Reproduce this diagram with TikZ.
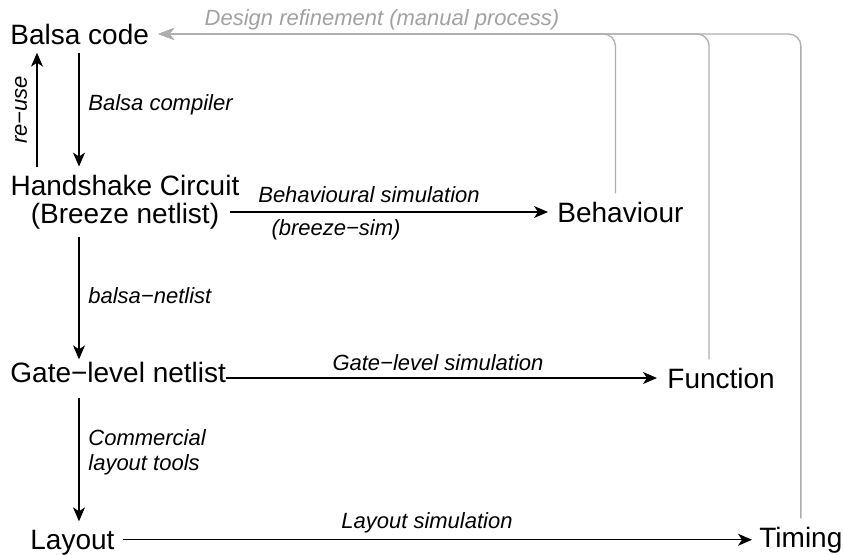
\documentclass[tikz,border=0pt]{standalone}
\usepackage{fontspec}
\setmainfont{Liberation Sans}
\usetikzlibrary{arrows.meta}
\begin{document}
\begin{tikzpicture}[x=0.5pt,y=-0.5pt,
  stage/.style={inner xsep=0pt,inner ysep=4pt,font=\fontsize{14}{14}\selectfont},
  lbl/.style={inner sep=0pt,font=\fontsize{11}{12.5}\selectfont\itshape},
  flow/.style={draw,line width=0.65pt,-{Stealth[length=7pt,width=6pt,inset=2pt]}},
  refine/.style={draw,line width=0.65pt,color=black!32,rounded corners=6pt,shorten >=4.5pt,-{Stealth[length=8pt,width=6pt,inset=2.5pt]}}]
\useasboundingbox (0,0) rectangle (843,554);
\coordinate (col) at (79,0);
\coordinate (back) at (37,0);
\node[stage,anchor=base west] (code) at (10,44) {Balsa code};
\node[stage,align=center] (hs) at (125,202) {Handshake Circuit\\(Breeze netlist)};
\node[stage,anchor=base west] (gate) at (10,382) {Gate−level netlist};
\node[stage,anchor=base west] (layout) at (30,549) {Layout};
\node[stage,anchor=base west] (beh) at (557,222) {Behaviour};
\node[stage,anchor=base west] (func) at (667,388) {Function};
\node[stage,anchor=base west] (timing) at (759,547) {Timing};
\path[flow] (code.south -| col) -- (hs.north -| col);
\path[flow] (hs.north -| back) -- (code.south -| back);
\path[flow,shorten >=-3pt] (hs.south -| col) -- (gate.north -| col);
\path[flow,shorten <=3.5pt] (gate.south -| col) -- (layout.north -| col);
\path[flow,shorten <=-5pt,shorten >=4.5pt] (hs.east |- beh.west) -- (beh.west);
\path[flow,shorten >=5pt] (gate.east |- func.west) -- (func.west);
\path[flow,shorten <=4pt,shorten >=3.5pt] (layout.east |- timing.west) -- (timing.west);
\path[refine] ([xshift=-2.5pt]beh.north) |- (code.east);
\path[refine] ([xshift=-6pt]func.north) |- (code.east);
\path[refine] (timing.north) |- (code.east);
\node[lbl,anchor=west] (compiler) at (88,105) {Balsa compiler};
\node[lbl,rotate=90] (reuse) at (21,110) {re−use};
\node[lbl,anchor=west] (netlister) at (88,296) {balsa−netlist};
\node[lbl,anchor=west,align=left] (commercial) at (88,452) {Commercial\\layout tools};
\node[lbl] (behsim) at (369,195) {Behavioural simulation};
\node[lbl] (breezesim) at (336,230) {(breeze−sim)};
\node[lbl] (gatesim) at (438,363) {Gate−level simulation};
\node[lbl] (laysim) at (427,523) {Layout simulation};
\node[lbl,text=black!37] (refinelbl) at (382,20) {Design refinement (manual process)};
\end{tikzpicture}
\end{document}
